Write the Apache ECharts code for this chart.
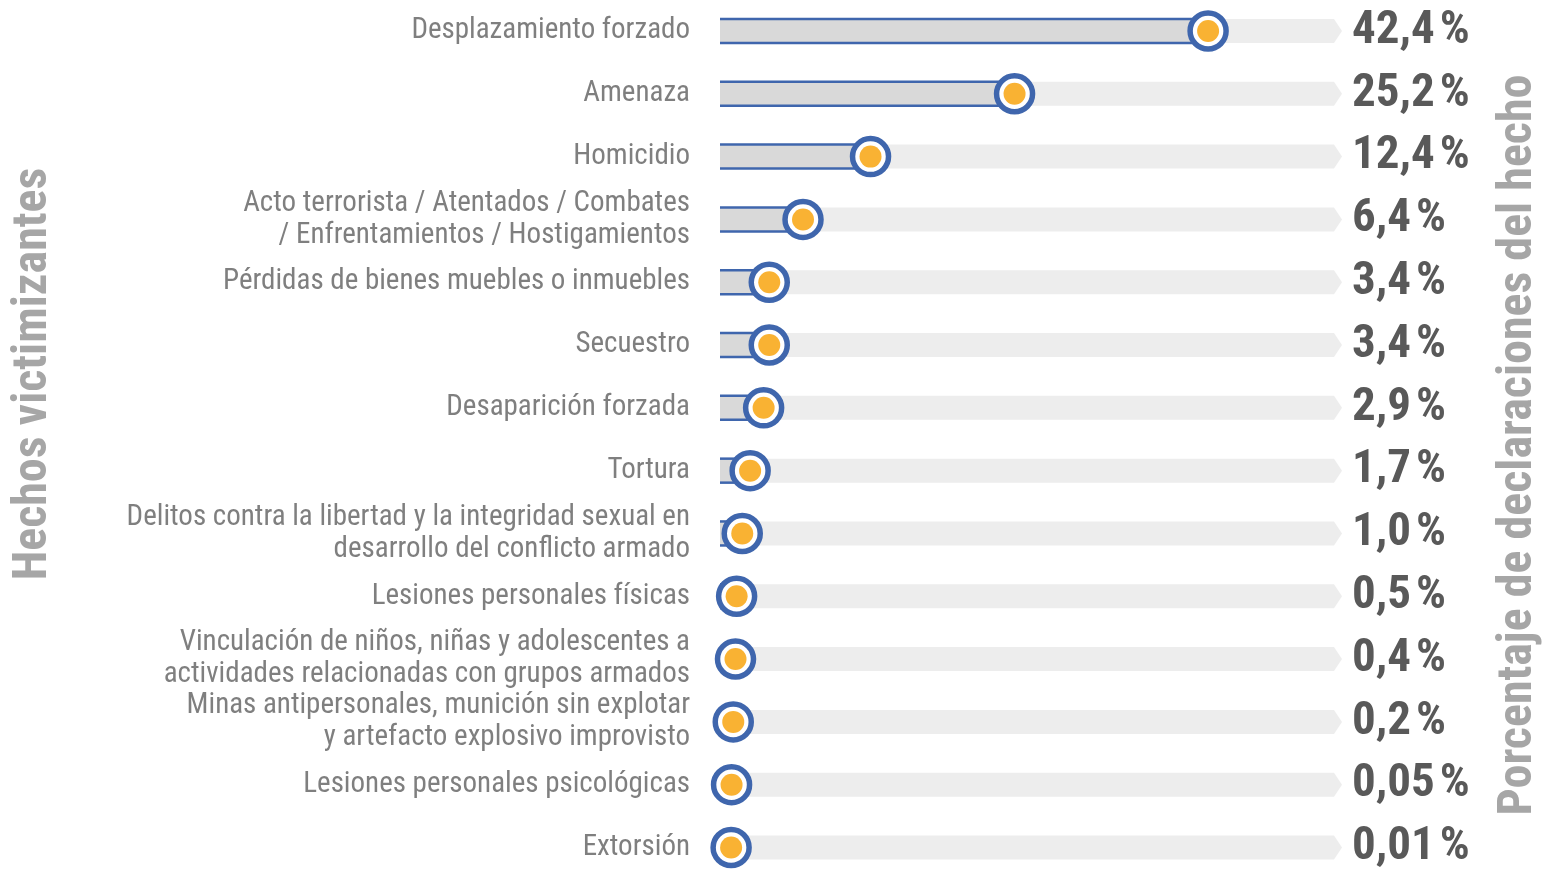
<!DOCTYPE html>
<html>
<head>
<meta charset="utf-8">
<script src="https://cdn.jsdelivr.net/npm/echarts@6/dist/echarts.min.js"></script>
<style>
  html, body { margin: 0; padding: 0; background: #fff; }
  #chart { width: 1543px; height: 871px; }
</style>
</head>
<body>
<div id="chart"></div>
<script>
const categories = [
  'Desplazamiento forzado',
  'Amenaza',
  'Homicidio',
  'Acto terrorista / Atentados / Combates\n/ Enfrentamientos / Hostigamientos',
  'Pérdidas de bienes muebles o inmuebles',
  'Secuestro',
  'Desaparición forzada',
  'Tortura',
  'Delitos contra la libertad y la integridad sexual en\ndesarrollo del conflicto armado',
  'Lesiones personales físicas',
  'Vinculación de niños, niñas y adolescentes a\nactividades relacionadas con grupos armados',
  'Minas antipersonales, munición sin explotar\ny artefacto explosivo improvisto',
  'Lesiones personales psicológicas',
  'Extorsión'
];
const percentages = [42.4, 25.2, 12.4, 6.4, 3.4, 3.4, 2.9, 1.7, 1.0, 0.5, 0.4, 0.2, 0.05, 0.01];
const axisMax = 54.3;

const leftTitle = 'Hechos victimizantes';
const rightTitle = 'Porcentaje de declaraciones del hecho';

const FONT = '"Roboto Condensed", "DejaVu Sans Condensed", sans-serif';
const BLUE = '#3f66ad';

function fmtPct(v) {
  const d = v < 0.1 ? 2 : 1;
  return v.toFixed(d).replace('.', ',') + '\u200A%';
}

const chart = echarts.init(document.getElementById('chart'));

// light track with arrow tip + darker filled bar up to the value
function renderRow(params, api) {
  const cat = api.value(0);
  const val = api.value(1);
  const start = api.coord([0, cat]);
  const end = api.coord([val, cat]);
  const cs = params.coordSys;
  const x0 = start[0] - 11;
  const xr = cs.x + cs.width;
  const y = start[1];
  const h = 24;
  return {
    type: 'group',
    children: [
      {
        type: 'polygon',
        shape: {
          points: [
            [x0, y - h / 2], [xr - 8, y - h / 2], [xr, y],
            [xr - 8, y + h / 2], [x0, y + h / 2]
          ]
        },
        style: { fill: '#ededed' }
      },
      {
        type: 'rect',
        shape: { x: x0, y: y - h / 2, width: end[0] - x0, height: h },
        style: { fill: '#d9d9d9' }
      },
      {
        type: 'line',
        shape: { x1: x0, y1: y - h / 2, x2: end[0], y2: y - h / 2 },
        style: { stroke: BLUE, lineWidth: 2.5 }
      },
      {
        type: 'line',
        shape: { x1: x0, y1: y + h / 2, x2: end[0], y2: y + h / 2 },
        style: { stroke: BLUE, lineWidth: 2.5 }
      }
    ]
  };
}

const rowData = percentages.map((v, i) => [i, v]);
const pointData = percentages.map((v, i) => [v, i]);

chart.setOption({
  animation: false,
  backgroundColor: '#ffffff',
  grid: { left: 731, right: 201, top: 31, bottom: 14 },
  xAxis: {
    type: 'value',
    min: 0,
    max: axisMax,
    show: false
  },
  yAxis: [
    {
      type: 'category',
      data: categories,
      inverse: true,
      boundaryGap: false,
      axisLine: { show: false },
      axisTick: { show: false },
      splitLine: { show: false },
      axisLabel: {
        margin: 41,
        color: '#7f7f7f',
        fontFamily: FONT,
        fontSize: 29,
        lineHeight: 32,
        align: 'right'
      }
    },
    {
      type: 'category',
      data: percentages.map(fmtPct),
      inverse: true,
      boundaryGap: false,
      position: 'right',
      axisLine: { show: false },
      axisTick: { show: false },
      splitLine: { show: false },
      axisLabel: {
        margin: 10,
        color: '#595959',
        fontFamily: FONT,
        fontWeight: 'bold',
        fontSize: 47,
        align: 'left'
      }
    }
  ],
  graphic: [
    {
      type: 'text',
      x: 34,
      y: 374,
      rotation: Math.PI / 2,
      style: {
        text: leftTitle,
        fill: '#a6a6a6',
        font: 'bold 48px ' + FONT,
        align: 'center',
        verticalAlign: 'middle'
      }
    },
    {
      type: 'text',
      x: 1519,
      y: 445,
      rotation: Math.PI / 2,
      style: {
        text: rightTitle,
        fill: '#a6a6a6',
        font: 'bold 48px ' + FONT,
        align: 'center',
        verticalAlign: 'middle'
      }
    }
  ],
  series: [
    {
      type: 'custom',
      renderItem: renderRow,
      encode: { x: 1, y: 0 },
      data: rowData,
      silent: true,
      z: 1
    },
    {
      type: 'scatter',
      data: pointData,
      symbolSize: 36,
      itemStyle: { color: '#ffffff', borderColor: BLUE, borderWidth: 5.5, opacity: 1 },
      silent: true,
      z: 3
    },
    {
      type: 'scatter',
      data: pointData,
      symbolSize: 22,
      itemStyle: { color: '#f9b233', opacity: 1 },
      silent: true,
      z: 4
    }
  ]
});
</script>
</body>
</html>
